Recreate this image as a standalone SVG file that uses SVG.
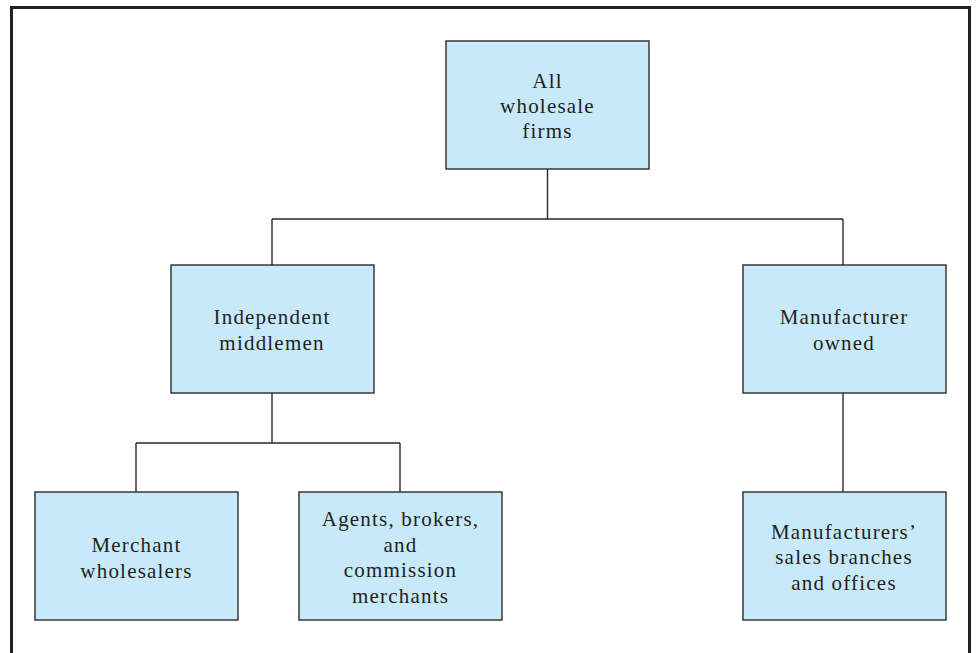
<svg xmlns="http://www.w3.org/2000/svg" width="979" height="653" viewBox="0 0 979 653">
  <style>
    .box { fill: #c8e9f8; stroke: #2b2b2b; stroke-width: 1.4; }
    .lbl { font-family: "Liberation Serif", "Times New Roman", serif; font-size: 21px; letter-spacing: 1.2px; fill: #231f20; text-anchor: middle; }
    .wire { fill: none; stroke: #2b2b2b; stroke-width: 1.4; }
    .frame { fill: none; stroke: #231f20; stroke-width: 3; }
  </style>
  <rect width="979" height="653" fill="#ffffff"/>
  <!-- outer frame, open at the bottom -->
  <path class="frame" d="M11.5 653 V7.5 H969.5 V653"/>

  <g id="connectors">
    <path class="wire" d="M547.5 169 V219 M272 219 H843 M272 219 V265 M843 219 V265"/>
    <path class="wire" d="M272 393 V443 M136 443 H400 M136 443 V492 M400 443 V492"/>
    <path class="wire" d="M843 393 V492"/>
  </g>

  <g id="all-wholesale-firms">
    <rect class="box" x="446" y="41" width="203" height="128"/>
    <text class="lbl" x="547.5" y="88">All</text>
    <text class="lbl" x="547.5" y="113">wholesale</text>
    <text class="lbl" x="547.5" y="138">firms</text>
  </g>

  <g id="independent-middlemen">
    <rect class="box" x="171" y="265" width="203" height="128"/>
    <text class="lbl" x="272" y="324">Independent</text>
    <text class="lbl" x="272" y="350">middlemen</text>
  </g>

  <g id="manufacturer-owned">
    <rect class="box" x="743" y="265" width="203" height="128"/>
    <text class="lbl" x="844" y="324">Manufacturer</text>
    <text class="lbl" x="844" y="350">owned</text>
  </g>

  <g id="merchant-wholesalers">
    <rect class="box" x="35" y="492" width="203" height="128"/>
    <text class="lbl" x="136.5" y="552">Merchant</text>
    <text class="lbl" x="136.5" y="577.5">wholesalers</text>
  </g>

  <g id="agents-brokers">
    <rect class="box" x="299" y="492" width="203" height="128"/>
    <text class="lbl" x="400.5" y="526">Agents, brokers,</text>
    <text class="lbl" x="400.5" y="551.5">and</text>
    <text class="lbl" x="400.5" y="577">commission</text>
    <text class="lbl" x="400.5" y="602.5">merchants</text>
  </g>

  <g id="manufacturers-sales-branches">
    <rect class="box" x="743" y="492" width="203" height="128"/>
    <text class="lbl" x="844" y="538.5">Manufacturers’</text>
    <text class="lbl" x="844" y="564">sales branches</text>
    <text class="lbl" x="844" y="589.5">and offices</text>
  </g>
</svg>
